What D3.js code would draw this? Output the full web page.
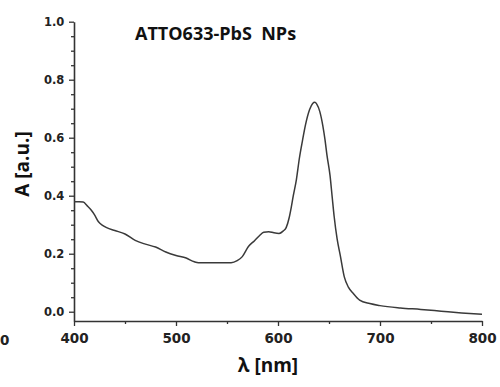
<!DOCTYPE html>
<html>
<head>
<meta charset="utf-8">
<script src="https://cdn.jsdelivr.net/npm/d3@7"></script>
<style>
  body { margin: 0; background: #fff; }
  svg { display: block; }
</style>
</head>
<body>
<div id="chart"></div>
<script>
// spectrum
const wavelength = [400, 405, 409, 413, 417, 420, 424, 428, 432, 440, 450, 460, 470, 480, 490, 500, 510, 518, 522, 540, 554,
  560, 565, 571, 577, 582, 586, 591, 596, 601, 605, 608, 611, 613, 615, 618, 621, 624, 627, 631, 634, 636, 638, 641, 644,
  646, 648, 651, 653, 655, 658, 661, 665, 669, 674, 680, 690, 700, 720, 740, 760, 780, 800];
const absorbance = [0.379, 0.379, 0.378, 0.365, 0.350, 0.335, 0.310, 0.298, 0.290, 0.280, 0.268, 0.246, 0.233, 0.223, 0.206,
  0.194, 0.185, 0.172, 0.169, 0.169, 0.169, 0.176, 0.190, 0.225, 0.245, 0.263, 0.274, 0.276, 0.272, 0.270, 0.278, 0.290,
  0.325, 0.360, 0.400, 0.455, 0.530, 0.590, 0.645, 0.697, 0.718, 0.722, 0.716, 0.690, 0.640, 0.595, 0.540, 0.470, 0.400,
  0.330, 0.250, 0.195, 0.120, 0.085, 0.062, 0.040, 0.028, 0.021, 0.013, 0.008, 0.002, -0.004, -0.009];

const xTicks = [400, 500, 600, 700, 800];
const xMinor = [450, 550, 650, 750];
const yTicks = [0.0, 0.2, 0.4, 0.6, 0.8, 1.0];
const yMinor = [0.05, 0.1, 0.15, 0.25, 0.3, 0.35, 0.45, 0.5, 0.55, 0.65, 0.7, 0.75, 0.85, 0.9, 0.95];

const W = 500, H = 387;
const plot = {left: 74, right: 482, top: 21.7, bottom: 321};

const svg = d3.select("#chart").append("svg")
    .attr("width", W)
    .attr("height", H);

const x = d3.scaleLinear().domain([400, 800]).range([plot.left, plot.right]);
const y = d3.scaleLinear().domain([-0.032, 1.0]).range([plot.bottom, plot.top]);

const axisColor = "#333";

// x axis
const gx = svg.append("g").attr("transform", `translate(0,${plot.bottom})`);
gx.call(d3.axisBottom(x).tickValues(xTicks).tickSize(5).tickSizeOuter(0).tickFormat(d3.format("d")));
gx.append("g").call(d3.axisBottom(x).tickValues(xMinor).tickSize(3).tickFormat(""))
  .select(".domain").remove();

// y axis
const gy = svg.append("g").attr("transform", `translate(${plot.left},0)`);
gy.call(d3.axisLeft(y).tickValues(yTicks).tickSize(5).tickSizeOuter(0).tickFormat(d3.format(".1f")));
gy.append("g").call(d3.axisLeft(y).tickValues(yMinor).tickSize(3).tickFormat(""))
  .select(".domain").remove();

svg.selectAll(".domain").attr("stroke", axisColor).attr("stroke-width", 1.6);
svg.selectAll(".tick line").attr("stroke", axisColor).attr("stroke-width", 1.3);

gx.selectAll(".tick text")
  .attr("font-family", "DejaVu Sans")
  .attr("font-weight", "bold")
  .attr("font-size", 13.5)
  .attr("fill", "#222")
  .attr("dy", "1.05em");

gy.selectAll(".tick text")
  .attr("font-family", "DejaVu Sans")
  .attr("font-weight", "bold")
  .attr("font-size", 11.5)
  .attr("fill", "#222")
  .attr("dx", "-0.15em");

// stray label fragment at the left edge
svg.append("text")
  .attr("x", 0).attr("y", 345)
  .attr("font-family", "DejaVu Sans").attr("font-weight", "bold").attr("font-size", 13.5)
  .attr("fill", "#222")
  .text("0");

// curve
const line = d3.line()
  .x((d, i) => x(wavelength[i]))
  .y(d => y(d))
  .curve(d3.curveMonotoneX);

svg.append("path")
  .datum(absorbance)
  .attr("fill", "none")
  .attr("stroke", "#3a3a3a")
  .attr("stroke-width", 1.5)
  .attr("d", line);

// title and axis labels
svg.append("text")
  .attr("x", 135).attr("y", 40)
  .attr("font-family", "Open Sans").attr("font-weight", "bold").attr("font-size", 18)
  .attr("fill", "#111")
  .attr("xml:space", "preserve")
  .text("ATTO633-PbS  NPs");

svg.append("text")
  .attr("transform", "translate(29,164) rotate(-90)")
  .attr("text-anchor", "middle")
  .attr("font-family", "Open Sans").attr("font-weight", "bold").attr("font-size", 19)
  .attr("fill", "#111")
  .text("A [a.u.]");

svg.append("text")
  .attr("x", 268).attr("y", 372)
  .attr("text-anchor", "middle")
  .attr("font-family", "Open Sans").attr("font-weight", "bold").attr("font-size", 19)
  .attr("fill", "#111")
  .text("λ [nm]");
</script>
</body>
</html>
